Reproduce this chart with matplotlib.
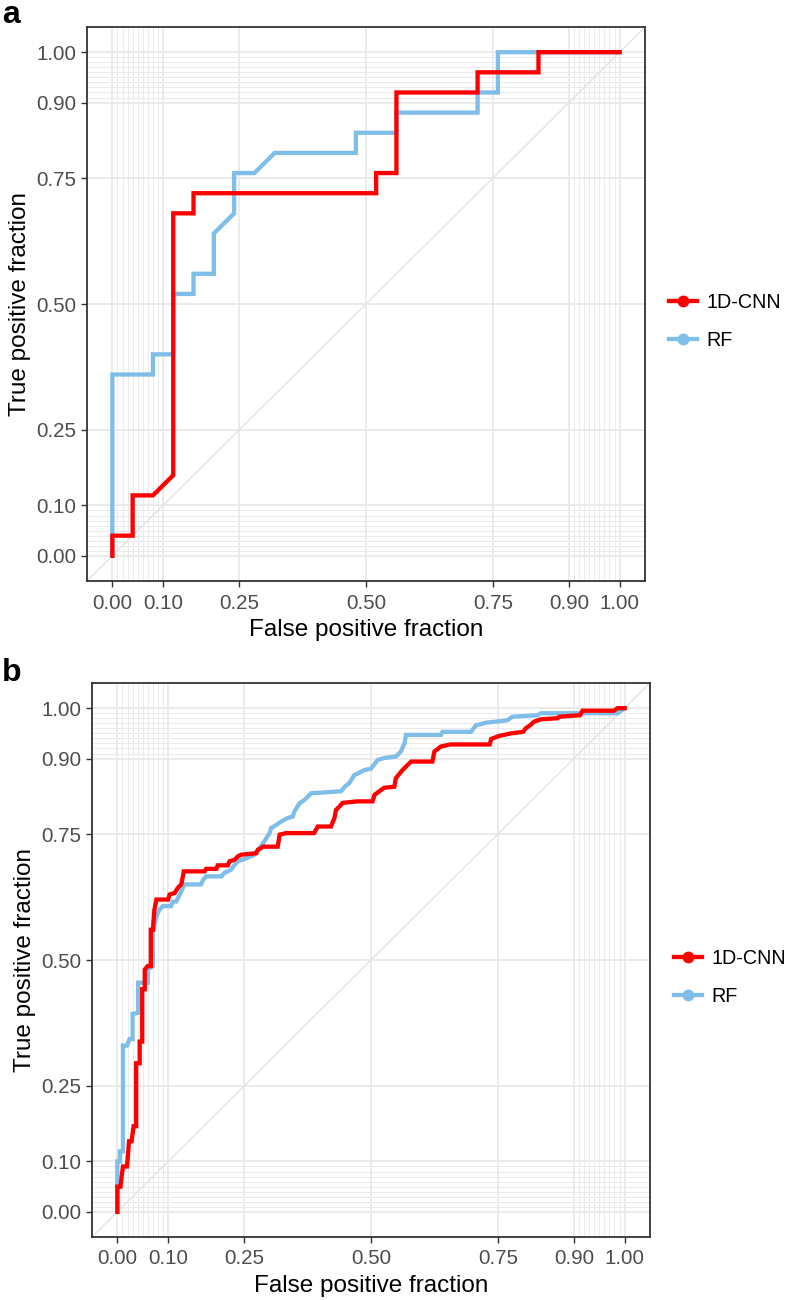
import numpy as np
import matplotlib
matplotlib.use("Agg")
import matplotlib.pyplot as plt
from matplotlib.lines import Line2D

plt.rcParams['font.family'] = ['Liberation Sans', 'DejaVu Sans']

# --- datos ---
# Panel a
a_cnn_fpr = [0, 0, 0.04, 0.04, 0.08, 0.12, 0.12, 0.16, 0.16, 0.52, 0.52, 0.56, 0.56,
             0.72, 0.72, 0.84, 0.84, 1.0]
a_cnn_tpr = [0, 0.04, 0.04, 0.12, 0.12, 0.16, 0.68, 0.68, 0.72, 0.72, 0.76, 0.76, 0.92,
             0.92, 0.96, 0.96, 1.0, 1.0]
a_rf_fpr = [0, 0, 0.08, 0.08, 0.12, 0.12, 0.16, 0.16, 0.20, 0.20, 0.24, 0.24, 0.28, 0.32,
            0.48, 0.48, 0.56, 0.56, 0.72, 0.72, 0.76, 0.76, 1.0]
a_rf_tpr = [0, 0.36, 0.36, 0.40, 0.40, 0.52, 0.52, 0.56, 0.56, 0.64, 0.68, 0.76, 0.76, 0.80,
            0.80, 0.84, 0.84, 0.88, 0.88, 0.92, 0.92, 1.0, 1.0]

# Panel b
b_cnn_fpr = [0, 0, 0.006, 0.011, 0.019, 0.023, 0.028, 0.032, 0.037, 0.037, 0.044, 0.044,
             0.049, 0.049, 0.054, 0.054, 0.060, 0.066, 0.066, 0.070, 0.073, 0.077, 0.100,
             0.103, 0.113, 0.119, 0.126, 0.131, 0.172, 0.175, 0.195, 0.198, 0.218, 0.221,
             0.231, 0.238, 0.244, 0.274, 0.277, 0.283, 0.287, 0.316, 0.320, 0.333, 0.388,
             0.395, 0.421, 0.428, 0.431, 0.438, 0.444, 0.474, 0.503, 0.507, 0.526, 0.546,
             0.549, 0.562, 0.579, 0.621, 0.625, 0.638, 0.657, 0.734, 0.737, 0.753, 0.776,
             0.800, 0.805, 0.815, 0.821, 0.835, 0.868, 0.871, 0.912, 0.917, 0.979, 0.986, 1.0]
b_cnn_tpr = [0, 0.05, 0.05, 0.09, 0.09, 0.14, 0.14, 0.17, 0.17, 0.295, 0.295, 0.338,
             0.338, 0.442, 0.442, 0.481, 0.488, 0.488, 0.560, 0.560, 0.600, 0.620, 0.620,
             0.630, 0.633, 0.643, 0.650, 0.676, 0.676, 0.681, 0.681, 0.688, 0.688, 0.696,
             0.699, 0.706, 0.709, 0.712, 0.719, 0.722, 0.725, 0.725, 0.749, 0.752, 0.752,
             0.765, 0.765, 0.782, 0.798, 0.805, 0.812, 0.815, 0.815, 0.828, 0.842, 0.844,
             0.861, 0.877, 0.894, 0.894, 0.914, 0.924, 0.928, 0.928, 0.939, 0.945, 0.950,
             0.953, 0.960, 0.967, 0.973, 0.978, 0.980, 0.983, 0.986, 0.995, 0.995, 1.0, 1.0]
b_rf_fpr = [0, 0, 0.005, 0.005, 0.011, 0.011, 0.019, 0.024, 0.030, 0.030, 0.041, 0.041,
            0.060, 0.060, 0.070, 0.070, 0.077, 0.083, 0.090, 0.106, 0.109, 0.116, 0.123,
            0.129, 0.132, 0.165, 0.169, 0.175, 0.205, 0.211, 0.224, 0.231, 0.238, 0.254,
            0.270, 0.283, 0.290, 0.300, 0.303, 0.313, 0.323, 0.336, 0.346, 0.349, 0.359,
            0.369, 0.382, 0.441, 0.448, 0.457, 0.467, 0.487, 0.500, 0.513, 0.526, 0.549,
            0.559, 0.566, 0.569, 0.638, 0.641, 0.697, 0.707, 0.726, 0.769, 0.779, 0.828,
            0.835, 0.986, 1.0]
b_rf_tpr = [0, 0.10, 0.10, 0.12, 0.12, 0.33, 0.33, 0.343, 0.343, 0.393, 0.395, 0.455,
            0.455, 0.481, 0.488, 0.554, 0.587, 0.600, 0.607, 0.607, 0.616, 0.616, 0.630,
            0.643, 0.650, 0.650, 0.659, 0.666, 0.666, 0.673, 0.679, 0.689, 0.696, 0.702,
            0.709, 0.726, 0.736, 0.752, 0.762, 0.768, 0.775, 0.782, 0.785, 0.795, 0.811,
            0.818, 0.831, 0.835, 0.844, 0.851, 0.867, 0.877, 0.880, 0.897, 0.901, 0.904,
            0.914, 0.930, 0.947, 0.947, 0.953, 0.953, 0.966, 0.971, 0.976, 0.983, 0.986,
            0.990, 0.990, 1.0]

etiquetas_ticks = [0, 0.10, 0.25, 0.50, 0.75, 0.90, 1.00]
modelos = ["1D-CNN", "RF"]
colores = {"1D-CNN": "#FF0000", "RF": "#80BEEA"}

GRIS_GRID = "#EBEBEB"
minor_ticks = np.round(np.concatenate([np.arange(0, 0.105, 0.01), np.arange(0.9, 1.005, 0.01)]), 2)


def estilo_roc(ax):
    ax.set_xlim(-0.05, 1.05)
    ax.set_ylim(-0.05, 1.05)
    ax.set_xticks(etiquetas_ticks)
    ax.set_yticks(etiquetas_ticks)
    ax.set_xticklabels([f"{t:.2f}" for t in etiquetas_ticks])
    ax.set_yticklabels([f"{t:.2f}" for t in etiquetas_ticks])
    ax.set_xticks(minor_ticks, minor=True)
    ax.set_yticks(minor_ticks, minor=True)
    ax.tick_params(which='minor', length=0)
    ax.tick_params(which='major', length=4, width=1.0, color='#333333',
                   labelsize=14.8, labelcolor='#4D4D4D', pad=3.5)
    ax.tick_params(axis='x', which='major', pad=5)
    ax.grid(which='major', color=GRIS_GRID, lw=1.4, zorder=0)
    ax.grid(which='minor', color=GRIS_GRID, lw=0.7, zorder=0)
    ax.set_axisbelow(True)
    for s in ax.spines.values():
        s.set_color('#333333')
        s.set_linewidth(1.3)
    ax.axline((0, 0), (1, 1), color='#E3E3E3', lw=1.0, zorder=1)
    ax.set_xlabel("False positive fraction", fontsize=17.5, labelpad=5)
    ax.set_ylabel("True positive fraction", fontsize=17.5, labelpad=4)


def dibujar_panel(ax, cnn_fpr, cnn_tpr, rf_fpr, rf_tpr):
    estilo_roc(ax)
    ax.plot(rf_fpr, rf_tpr, color=colores["RF"], lw=3.1, solid_joinstyle='miter', zorder=3)
    ax.plot(cnn_fpr, cnn_tpr, color=colores["1D-CNN"], lw=3.1, solid_joinstyle='miter', zorder=4)
    handles = [Line2D([], [], color=colores[m], lw=3.1, marker='o', markersize=7.5)
               for m in modelos]
    ax.legend(handles, modelos, loc='center left', bbox_to_anchor=(1.043, 0.468),
              frameon=False, fontsize=14.2, handlelength=1.4, handletextpad=0.5,
              labelspacing=0.95, borderpad=0, borderaxespad=0)


fig = plt.figure(figsize=(7.87, 13), dpi=100)
ax_a = fig.add_axes([87 / 787, 1 - 581 / 1300, 558 / 787, 554 / 1300])
ax_b = fig.add_axes([92 / 787, 1 - 1237 / 1300, 558 / 787, 554 / 1300])

dibujar_panel(ax_a, a_cnn_fpr, a_cnn_tpr, a_rf_fpr, a_rf_tpr)
dibujar_panel(ax_b, b_cnn_fpr, b_cnn_tpr, b_rf_fpr, b_rf_tpr)

fig.text(0.003, 1 - 23 / 1300, "a", fontsize=23, fontweight='bold', va='baseline')
fig.text(0.003, 1 - 681 / 1300, "b", fontsize=23, fontweight='bold', va='baseline')

fig.savefig("out.png", dpi=100)
